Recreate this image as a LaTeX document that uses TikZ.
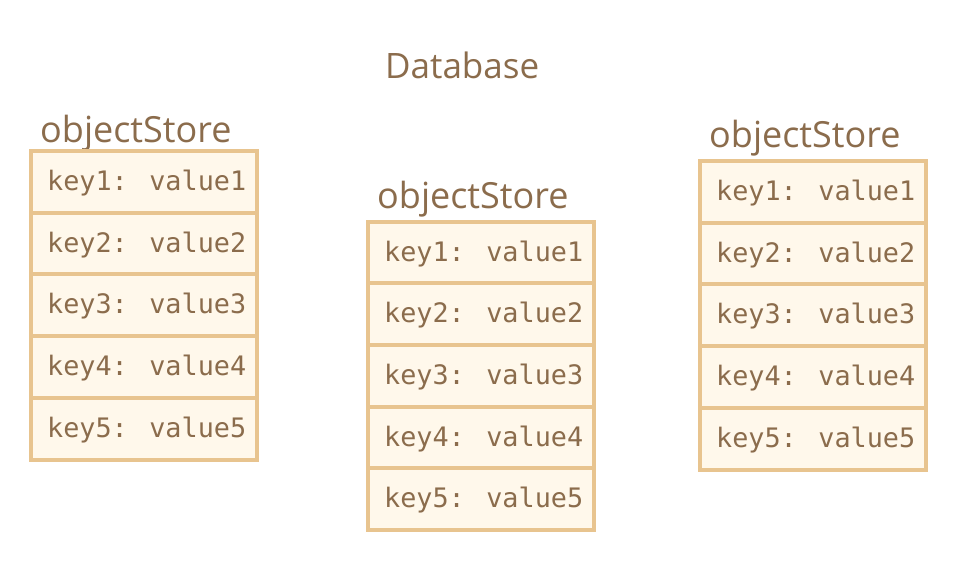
\documentclass[tikz,border=0pt]{standalone}
\usepackage{fontspec}
\setmainfont{Open Sans}
\newfontfamily\monof{DejaVu Sans Mono}
\definecolor{txt}{HTML}{8B6C4C}
\definecolor{brd}{HTML}{E8C48F}
\definecolor{cellfill}{HTML}{FFF8EB}
\tikzset{
  cellbox/.style={draw=brd, fill=cellfill, line width=4pt},
  keytext/.style={anchor=base west, inner sep=0pt, text=txt, font=\monof\fontsize{26.8}{30}\selectfont},
  storelabel/.style={anchor=base west, inner sep=0pt, text=txt, font=\fontsize{36}{40}\selectfont},
}
\newcommand{\objstore}[4]{% name, left x, top y, label baseline y
  \node[storelabel] (#1lab) at (#2+9, #4) {objectStore};
  \foreach \i in {1,...,5} {
    \pgfmathsetmacro{\rt}{#3+(\i-1)*61.7}
    \pgfmathsetmacro{\rb}{#3+\i*61.7}
    \draw[cellbox] (#2,\rt) rectangle (#2+226,\rb);
    \node[keytext] (#1k\i) at (#2+16,\rt+39.5) {key\i: value\i};
  }
}
\begin{document}
\begin{tikzpicture}[x=1pt,y=-1pt]
\useasboundingbox (0,0) rectangle (956,584);
\fill[white] (0,0) rectangle (956,584);
\node[storelabel, font=\fontsize{35}{40}\selectfont] (db) at (385,78) {Database};
\objstore{a}{31}{151}{142}
\objstore{b}{368}{221.5}{208}
\objstore{c}{700}{161}{147}
\end{tikzpicture}
\end{document}
